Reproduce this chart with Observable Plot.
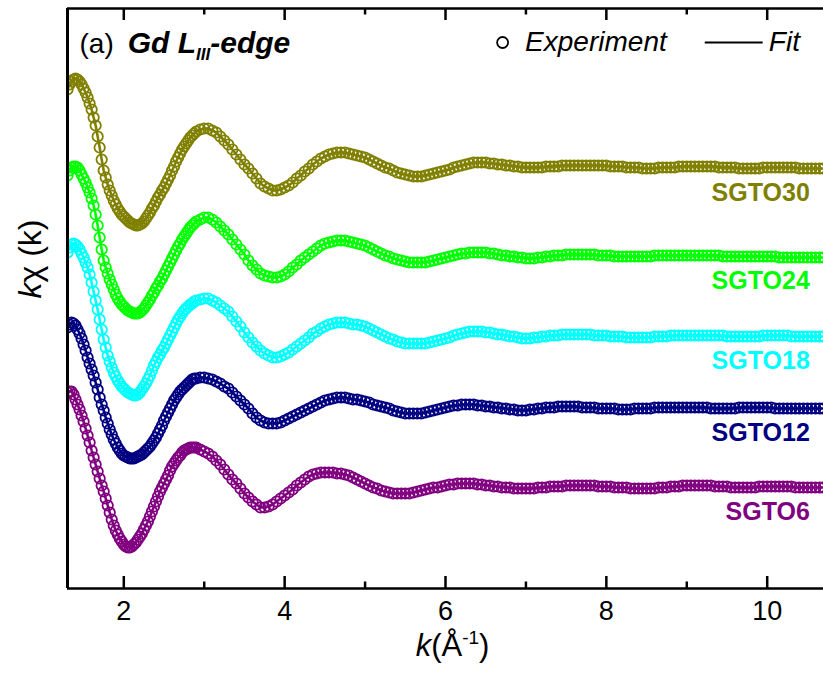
<!DOCTYPE html>
<html>
<head>
<meta charset="utf-8">
<script src="https://cdn.jsdelivr.net/npm/d3@7"></script>
<script src="https://cdn.jsdelivr.net/npm/@observablehq/plot@0.6"></script>
<style>
  html, body { margin: 0; padding: 0; background: #fff; }
</style>
</head>
<body>
<div id="chart"></div>
<script>
// Gd L_III-edge EXAFS oscillations k·chi(k), experiment (circles) and fit (line),
// stacked with a vertical offset for each SGTO sample.
const samples = ["SGTO30", "SGTO24", "SGTO18", "SGTO12", "SGTO6"];
const colors  = ["#808000", "#00ff00", "#00ffff", "#000080", "#800080"];
const offsets = [42.1, 33.3, 25.3, 18.1, 10.2];

// k grid (Å^-1) of the measured points; the low-k region is sampled twice as densely
const kStart = 1.3, kStep = 0.05, kCount = 189;
const kFineStart = 1.325, kFineCount = 32;
const xTicks = [2, 4, 6, 8, 10];
const xMinorTicks = [3, 5, 7, 9];

// k·chi(k) of each sample on the main grid
const chiSGTO30 = [
  7.8, 8.6, 8.9, 8.6, 7.9, 7.0, 5.8, 4.2, 2.0, -0.3,
  -1.7, -2.8, -3.7, -4.4, -4.9, -5.3, -5.6, -5.8, -5.7, -5.4,
  -4.8, -4.1, -3.4, -2.7, -2.0, -1.2, -0.3, 0.6, 1.4, 2.1,
  2.7, 3.2, 3.6, 3.8, 3.9, 3.9, 3.7, 3.5, 3.1, 2.7,
  2.3, 1.8, 1.3, 0.8, 0.3, -0.1, -0.6, -1.1, -1.6, -1.9,
  -2.1, -2.3, -2.3, -2.2, -2.0, -1.8, -1.5, -1.1, -0.8, -0.4,
  -0.1, 0.3, 0.6, 0.9, 1.1, 1.3, 1.4, 1.5, 1.5, 1.5,
  1.4, 1.3, 1.2, 1.1, 1.0, 0.8, 0.6, 0.4, 0.2, 0.0,
  -0.1, -0.3, -0.5, -0.6, -0.7, -0.8, -0.9, -0.9, -0.9, -0.8,
  -0.7, -0.6, -0.5, -0.4, -0.3, -0.2, 0.0, 0.1, 0.2, 0.3,
  0.4, 0.5, 0.5, 0.5, 0.5, 0.4, 0.4, 0.3, 0.3, 0.2,
  0.2, 0.1, 0.1, 0.0, 0.0, 0.0, 0.0, 0.0, 0.0, 0.1,
  0.1, 0.1, 0.1, 0.2, 0.2, 0.2, 0.2, 0.2, 0.2, 0.2,
  0.2, 0.2, 0.2, 0.2, 0.2, 0.1, 0.1, 0.1, 0.1, 0.0,
  0.0, 0.0, 0.0, -0.1, -0.1, -0.1, -0.1, 0.0, 0.0, 0.0,
  0.0, 0.0, 0.1, 0.1, 0.1, 0.1, 0.1, 0.1, 0.1, 0.1,
  0.1, 0.1, 0.0, 0.0, 0.0, 0.0, 0.0, -0.1, -0.1, -0.1,
  -0.1, -0.1, -0.1, 0.0, 0.0, 0.0, 0.0, 0.0, 0.0, 0.0,
  0.0, 0.0, -0.1, -0.1, -0.1, -0.1, -0.1, -0.1, -0.1
];
const chiSGTO24 = [
  8.0, 8.8, 8.9, 8.5, 7.7, 6.8, 5.7, 4.1, 1.8, -0.5,
  -1.8, -2.9, -3.9, -4.6, -5.1, -5.5, -5.7, -5.8, -5.7, -5.3,
  -4.7, -4.0, -3.3, -2.6, -1.9, -1.1, -0.3, 0.5, 1.2, 1.9,
  2.5, 3.0, 3.4, 3.6, 3.8, 3.8, 3.6, 3.3, 2.9, 2.5,
  2.1, 1.6, 1.1, 0.6, 0.1, -0.5, -1.0, -1.4, -1.8, -2.0,
  -2.1, -2.2, -2.2, -2.1, -1.9, -1.6, -1.2, -0.9, -0.5, -0.2,
  0.1, 0.4, 0.7, 1.0, 1.2, 1.3, 1.4, 1.5, 1.5, 1.5,
  1.4, 1.3, 1.2, 1.1, 1.0, 0.8, 0.6, 0.4, 0.2, 0.0,
  -0.1, -0.3, -0.4, -0.5, -0.6, -0.7, -0.7, -0.7, -0.7, -0.7,
  -0.6, -0.5, -0.4, -0.3, -0.2, -0.1, 0.0, 0.1, 0.2, 0.2,
  0.3, 0.3, 0.3, 0.3, 0.3, 0.2, 0.2, 0.1, 0.0, 0.0,
  -0.1, -0.1, -0.2, -0.2, -0.3, -0.3, -0.3, -0.2, -0.2, -0.1,
  -0.1, 0.0, 0.0, 0.0, 0.1, 0.1, 0.1, 0.1, 0.1, 0.1,
  0.1, 0.1, 0.0, 0.0, 0.0, 0.0, -0.1, -0.1, -0.1, -0.1,
  -0.1, -0.1, -0.1, -0.1, -0.1, -0.1, 0.0, 0.0, 0.0, 0.0,
  0.0, 0.0, 0.0, 0.0, 0.0, 0.0, 0.0, 0.0, 0.0, 0.0,
  0.0, 0.0, 0.0, -0.1, -0.1, -0.1, -0.1, -0.1, -0.1, -0.1,
  -0.1, -0.1, -0.1, -0.1, -0.1, -0.1, -0.1, -0.2, -0.2, -0.2,
  -0.2, -0.2, -0.2, -0.2, -0.2, -0.2, -0.2, -0.2, -0.2
];
const chiSGTO18 = [
  8.3, 9.1, 9.1, 8.6, 7.8, 6.8, 5.3, 3.5, 1.6, -0.4,
  -2.0, -3.2, -4.1, -4.8, -5.3, -5.7, -5.9, -6.0, -5.7, -5.1,
  -4.4, -3.5, -2.6, -1.9, -1.2, -0.4, 0.4, 1.2, 1.9, 2.5,
  2.9, 3.2, 3.5, 3.6, 3.7, 3.7, 3.5, 3.3, 3.0, 2.7,
  2.4, 1.9, 1.4, 0.9, 0.3, -0.2, -0.7, -1.1, -1.5, -1.8,
  -2.0, -2.2, -2.2, -2.1, -1.9, -1.7, -1.4, -1.1, -0.8, -0.5,
  -0.2, 0.2, 0.4, 0.7, 0.9, 1.1, 1.2, 1.3, 1.3, 1.3,
  1.2, 1.1, 1.1, 1.0, 0.9, 0.7, 0.5, 0.3, 0.1, -0.1,
  -0.3, -0.4, -0.6, -0.7, -0.8, -0.8, -0.8, -0.8, -0.8, -0.8,
  -0.7, -0.6, -0.5, -0.4, -0.3, -0.2, 0.0, 0.1, 0.2, 0.3,
  0.4, 0.4, 0.4, 0.4, 0.3, 0.3, 0.2, 0.1, 0.1, 0.0,
  -0.1, -0.1, -0.2, -0.3, -0.3, -0.3, -0.2, -0.2, -0.1, -0.1,
  0.0, 0.0, 0.0, 0.1, 0.1, 0.1, 0.1, 0.1, 0.1, 0.1,
  0.1, 0.0, 0.0, 0.0, 0.0, -0.1, -0.1, -0.1, -0.1, -0.2,
  -0.2, -0.2, -0.2, -0.2, -0.2, -0.2, -0.1, -0.1, -0.1, -0.1,
  0.0, 0.0, 0.0, 0.0, 0.0, 0.0, 0.0, 0.0, 0.0, 0.0,
  0.0, 0.0, 0.0, 0.0, -0.1, -0.1, -0.1, -0.1, -0.1, -0.1,
  -0.1, -0.1, -0.1, 0.0, 0.0, 0.0, 0.0, 0.0, 0.0, 0.0,
  -0.1, -0.1, -0.1, -0.1, -0.1, -0.1, -0.1, -0.1, -0.1
];
const chiSGTO12 = [
  8.0, 8.5, 8.2, 7.4, 6.3, 5.0, 3.8, 2.5, 1.0, -0.3,
  -1.6, -2.7, -3.6, -4.3, -4.8, -5.0, -5.1, -5.0, -4.8, -4.5,
  -4.1, -3.6, -3.0, -2.2, -1.3, -0.5, 0.3, 1.0, 1.6, 2.0,
  2.4, 2.8, 2.9, 3.0, 3.0, 2.9, 2.8, 2.6, 2.4, 2.1,
  1.9, 1.5, 1.1, 0.7, 0.3, -0.1, -0.6, -1.0, -1.3, -1.5,
  -1.6, -1.6, -1.6, -1.5, -1.3, -1.1, -0.9, -0.7, -0.5, -0.3,
  -0.1, 0.1, 0.3, 0.5, 0.7, 0.8, 0.9, 1.0, 1.0, 1.0,
  0.9, 0.8, 0.8, 0.7, 0.6, 0.5, 0.3, 0.2, 0.1, 0.0,
  -0.1, -0.3, -0.4, -0.5, -0.6, -0.6, -0.6, -0.6, -0.6, -0.5,
  -0.4, -0.3, -0.2, -0.1, 0.0, 0.1, 0.2, 0.2, 0.3, 0.3,
  0.3, 0.3, 0.2, 0.2, 0.1, 0.1, 0.0, 0.0, -0.1, -0.1,
  -0.2, -0.2, -0.3, -0.3, -0.3, -0.2, -0.2, -0.1, -0.1, 0.0,
  0.0, 0.0, 0.1, 0.1, 0.1, 0.1, 0.1, 0.1, 0.0, 0.0,
  0.0, 0.0, -0.1, -0.1, -0.1, -0.1, -0.1, -0.2, -0.2, -0.2,
  -0.2, -0.1, -0.1, -0.1, -0.1, -0.1, 0.0, 0.0, 0.0, 0.0,
  0.0, 0.0, 0.0, 0.0, 0.0, 0.0, 0.0, 0.0, 0.0, 0.0,
  -0.1, -0.1, -0.1, -0.1, -0.1, -0.1, -0.1, 0.0, 0.0, 0.0,
  0.0, 0.0, 0.0, 0.0, 0.0, 0.0, -0.1, -0.1, -0.1, -0.1,
  -0.1, -0.1, -0.1, -0.1, -0.1, -0.1, -0.1, -0.1, -0.1
];
const chiSGTO6 = [
  9.4, 9.5, 8.7, 7.7, 6.5, 5.1, 3.6, 2.2, 0.8, -0.5,
  -1.9, -3.3, -4.4, -5.2, -5.8, -6.1, -6.0, -5.6, -5.0, -4.3,
  -3.5, -2.5, -1.5, -0.5, 0.3, 1.1, 2.0, 2.6, 3.1, 3.6,
  3.8, 3.9, 3.9, 3.7, 3.5, 3.3, 3.0, 2.6, 2.2, 1.7,
  1.2, 0.7, 0.3, -0.2, -0.7, -1.1, -1.5, -1.8, -2.1, -2.1,
  -2.0, -1.8, -1.5, -1.2, -0.9, -0.6, -0.3, 0.1, 0.4, 0.7,
  1.0, 1.2, 1.3, 1.4, 1.4, 1.4, 1.4, 1.3, 1.3, 1.2,
  1.1, 0.9, 0.7, 0.5, 0.3, 0.1, -0.1, -0.2, -0.4, -0.5,
  -0.6, -0.7, -0.7, -0.7, -0.7, -0.7, -0.6, -0.5, -0.4, -0.3,
  -0.2, -0.1, -0.1, 0.0, 0.1, 0.2, 0.2, 0.3, 0.3, 0.3,
  0.3, 0.3, 0.2, 0.2, 0.1, 0.1, 0.0, 0.0, -0.1, -0.1,
  -0.1, -0.2, -0.2, -0.2, -0.2, -0.2, -0.2, -0.1, -0.1, -0.1,
  0.0, 0.0, 0.0, 0.0, 0.1, 0.1, 0.1, 0.1, 0.1, 0.1,
  0.1, 0.1, 0.0, 0.0, 0.0, 0.0, -0.1, -0.1, -0.1, -0.1,
  -0.2, -0.2, -0.2, -0.2, -0.2, -0.2, -0.2, -0.1, -0.1, -0.1,
  0.0, 0.0, 0.0, 0.1, 0.1, 0.1, 0.1, 0.1, 0.1, 0.1,
  0.1, 0.0, 0.0, 0.0, 0.0, -0.1, -0.1, -0.1, -0.1, -0.1,
  -0.1, -0.1, 0.0, 0.0, 0.0, 0.0, 0.0, 0.0, 0.0, 0.0,
  0.0, -0.1, -0.1, -0.1, -0.1, -0.1, -0.1, -0.1, -0.1
];

// extra low-k points (k = 1.325, 1.375, ... 2.875)
const chiFineSGTO30 = [
  8.3, 8.8, 8.8, 8.3, 7.5, 6.4, 5.0, 3.1, 0.8, -1.0,
  -2.3, -3.3, -4.1, -4.7, -5.1, -5.5, -5.7, -5.8, -5.6, -5.1,
  -4.5, -3.8, -3.0, -2.3, -1.6, -0.8, 0.1, 1.0, 1.8, 2.4,
  3.0, 3.4
];
const chiFineSGTO24 = [
  8.5, 8.9, 8.8, 8.1, 7.3, 6.3, 5.0, 3.0, 0.6, -1.2,
  -2.4, -3.4, -4.3, -4.9, -5.3, -5.6, -5.8, -5.8, -5.5, -5.0,
  -4.4, -3.7, -3.0, -2.3, -1.5, -0.7, 0.1, 0.9, 1.6, 2.2,
  2.8, 3.2
];
const chiFineSGTO18 = [
  8.8, 9.2, 8.9, 8.2, 7.3, 6.1, 4.4, 2.6, 0.6, -1.2,
  -2.6, -3.7, -4.5, -5.1, -5.5, -5.8, -6.0, -5.9, -5.4, -4.8,
  -4.0, -3.0, -2.2, -1.5, -0.8, 0.0, 0.8, 1.6, 2.2, 2.7,
  3.1, 3.4
];
const chiFineSGTO12 = [
  8.3, 8.4, 7.8, 6.9, 5.7, 4.4, 3.2, 1.8, 0.3, -1.0,
  -2.2, -3.2, -4.0, -4.6, -4.9, -5.1, -5.1, -4.9, -4.7, -4.3,
  -3.9, -3.3, -2.6, -1.8, -0.9, -0.1, 0.7, 1.3, 1.8, 2.2,
  2.6, 2.9
];
const chiFineSGTO6 = [
  9.5, 9.2, 8.2, 7.1, 5.8, 4.4, 2.9, 1.5, 0.1, -1.2,
  -2.6, -3.9, -4.8, -5.5, -6.0, -6.1, -5.8, -5.3, -4.7, -3.9,
  -3.0, -2.0, -1.0, -0.1, 0.7, 1.6, 2.3, 2.9, 3.4, 3.7,
  3.9, 3.9
];
const chiSeries = [chiSGTO30, chiSGTO24, chiSGTO18, chiSGTO12, chiSGTO6];
const chiFineSeries = [chiFineSGTO30, chiFineSGTO24, chiFineSGTO18, chiFineSGTO12, chiFineSGTO6];

// ---- layout / style ----
const yTop = 58;            // top of the frame in offset k·chi units
const labelK = 10.53;       // right end of the sample names
const labelDrop = 2.55;     // sample name sits below its curve
const legendPos = { y: 54.6, dotK: 6.71, textK: 6.99, lineK1: 9.23, lineK2: 9.95, fitK: 10.02 };
const FONT = "'Liberation Sans', Arial, Helvetica, sans-serif";

const kGrid = d3.range(kCount).map(i => +(kStart + i * kStep).toFixed(3));
const kFine = d3.range(kFineCount).map(i => +(kFineStart + i * kStep).toFixed(3));
const rows = samples.flatMap((s, j) => {
  const main = chiSeries[j].map((v, i) => ({ k: kGrid[i], y: v + offsets[j], sample: s }));
  const fine = chiFineSeries[j].map((v, i) => ({ k: kFine[i], y: v + offsets[j], sample: s }));
  return main.concat(fine).sort((a, b) => a.k - b.k);
});
const nameRows = samples.map((s, j) => ({ sample: s, k: labelK, y: offsets[j] - labelDrop }));

const chart = Plot.plot({
  width: 823,
  height: 673,
  marginLeft: 67,
  marginRight: 0,
  marginTop: 8,
  marginBottom: 85,
  style: { fontFamily: FONT, color: "black", background: "white", overflow: "visible" },
  x: { domain: [1.3, 10.7] },
  y: { domain: [0, yTop], axis: null },
  color: { domain: samples, range: colors },
  marks: [
    // experiment
    Plot.dot(rows, { x: "k", y: "y", stroke: "sample", r: 5.2, strokeWidth: 1.8, clip: true }),
    // fit
    Plot.line(rows, { x: "k", y: "y", stroke: "sample", z: "sample", strokeWidth: 2.6, clip: true }),
    // sample names
    Plot.text(nameRows, {
      x: "k", y: "y", text: "sample", fill: "sample", textAnchor: "end", lineAnchor: "middle",
      fontSize: 25, fontWeight: "bold"
    }),
    // frame
    Plot.ruleY([0], { strokeWidth: 2.5 }),
    Plot.ruleY([yTop], { strokeWidth: 2.5 }),
    Plot.ruleX([1.3], { strokeWidth: 3 }),
    // inward ticks, bottom and top
    Plot.ruleX(xTicks, { y1: 0, y2: 1.2, strokeWidth: 2.5 }),
    Plot.ruleX(xMinorTicks, { y1: 0, y2: 0.65, strokeWidth: 2.5 }),
    Plot.ruleX(xTicks, { y1: yTop, y2: yTop - 1.2, strokeWidth: 2.5 }),
    Plot.ruleX(xMinorTicks, { y1: yTop, y2: yTop - 0.65, strokeWidth: 2.5 }),
    Plot.axisX({ ticks: xTicks, tickSize: 0, tickPadding: 12, fontSize: 27, label: null }),
    // axis titles
    Plot.text(["k(Å-1)"], { frameAnchor: "bottom", dx: 7, dy: 58, lineAnchor: "middle", fontSize: 31 }),
    Plot.text(["kχ (k)"], { frameAnchor: "left", dx: -37, rotate: -90, lineAnchor: "middle", fontSize: 32 }),
    // panel title
    Plot.text(["(a) Gd LIII-edge"], { frameAnchor: "top-left", dx: 12, dy: 36, textAnchor: "start", lineAnchor: "middle", fontSize: 28 }),
    // legend
    Plot.dot([legendPos], { x: "dotK", y: "y", r: 5.5, stroke: "black", strokeWidth: 1.8 }),
    Plot.text([legendPos], { x: "textK", y: "y", text: () => "Experiment", textAnchor: "start", lineAnchor: "middle", fontSize: 28, fontStyle: "italic" }),
    Plot.ruleY([legendPos], { y: "y", x1: "lineK1", x2: "lineK2", strokeWidth: 2 }),
    Plot.text([legendPos], { x: "fitK", y: "y", text: () => "Fit", textAnchor: "start", lineAnchor: "middle", fontSize: 28, fontStyle: "italic" })
  ]
});

// mixed-style pieces (italic symbols, subscript, superscript)
const richText = {
  "k(Å-1)": [
    { t: "k", italic: true },
    { t: "(Å" },
    { t: "-1", size: 19, dy: -12 },
    { t: ")", dy: 12 }
  ],
  "kχ (k)": [
    { t: "k", italic: true },
    { t: "χ" },
    { t: " (k)" }
  ],
  "(a) Gd LIII-edge": [
    { t: "(a)" },
    { t: "Gd L", bold: true, italic: true, dx: 14, size: 30 },
    { t: "III", bold: true, italic: true, size: 17, dy: 7 },
    { t: "-edge", bold: true, italic: true, size: 30, dy: -7 }
  ]
};
d3.select(chart).selectAll("text").each(function () {
  const parts = richText[this.textContent];
  if (!parts) return;
  const el = d3.select(this);
  el.text(null);
  for (const p of parts) {
    const ts = el.append("tspan").text(p.t);
    if (p.italic) ts.attr("font-style", "italic");
    if (p.bold) ts.attr("font-weight", "bold");
    if (p.size) ts.attr("font-size", p.size);
    if (p.dy) ts.attr("dy", p.dy);
    if (p.dx) ts.attr("dx", p.dx);
  }
});

document.getElementById("chart").appendChild(chart);
</script>
</body>
</html>
